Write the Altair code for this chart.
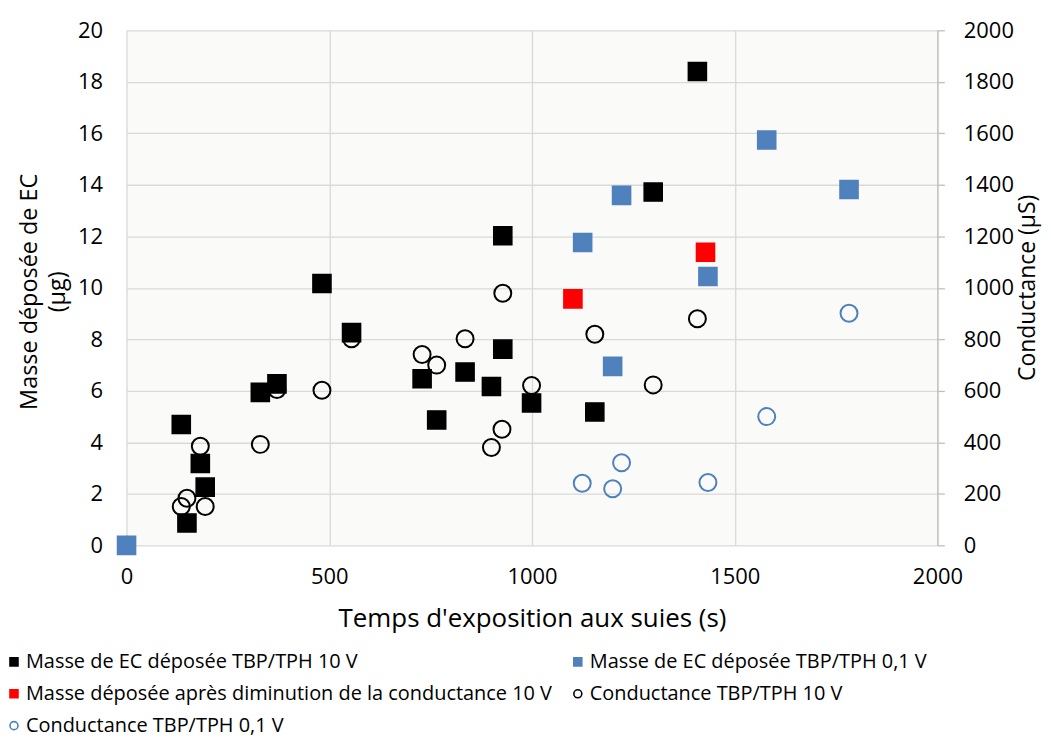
import altair as alt
import pandas as pd

series_names = [
    "Masse de EC déposée TBP/TPH 10 V",
    "Masse de EC déposée TBP/TPH 0,1 V",
    "Masse déposée après diminution de la conductance 10 V",
    "Conductance TBP/TPH 10 V",
    "Conductance TBP/TPH 0,1 V",
]

# Masse de EC déposée TBP/TPH 10 V (µg)
t_mass_10v = [135, 149, 182, 194, 330, 371, 482, 555, 729, 765, 835, 900, 928, 928, 999, 1155, 1299, 1408]
mass_10v = [4.69, 0.87, 3.18, 2.26, 5.94, 6.27, 10.17, 8.26, 6.47, 4.87, 6.73, 6.17, 7.62, 12.02, 5.53, 5.18, 13.72, 18.4]

# Masse de EC déposée TBP/TPH 0,1 V (µg)
t_mass_01v = [0, 1125, 1199, 1221, 1434, 1579, 1782]
mass_01v = [0, 11.76, 6.95, 13.59, 10.44, 15.74, 13.82]

# Masse déposée après diminution de la conductance 10 V (µg)
t_mass_red = [1101, 1428]
mass_red = [9.57, 11.38]

# Conductance TBP/TPH 10 V (µS)
t_cond_10v = [135, 149, 182, 194, 330, 371, 482, 555, 729, 765, 835, 900, 926, 928, 999, 1155, 1299, 1408]
cond_10v = [151, 183, 385, 151, 392, 605, 602, 802, 741, 700, 802, 380, 451, 979, 621, 820, 623, 880]

# Conductance TBP/TPH 0,1 V (µS)
t_cond_01v = [0, 1124, 1199, 1221, 1434, 1579, 1782]
cond_01v = [0, 241, 220, 321, 244, 500, 901]

x_ticks = [0, 500, 1000, 1500, 2000]
left_ticks = [0, 2, 4, 6, 8, 10, 12, 14, 16, 18, 20]
right_ticks = [0, 200, 400, 600, 800, 1000, 1200, 1400, 1600, 1800, 2000]

# legend order (the legend fills column by column: 3 items then 2)
legend_order = [series_names[0], series_names[2], series_names[4], series_names[1], series_names[3]]
stroke_range = ["#000000", "#FF0000", "#4F81BD", "#4F81BD", "#000000"]
fill_range = ["#000000", "#FF0000", "transparent", "#4F81BD", "transparent"]
shape_range = ["square", "square", "circle", "square", "circle"]


def frame(name, ts, vs):
    return pd.DataFrame({"series": [name] * len(ts), "t": ts, "v": vs})


df_mass = pd.concat([
    frame(series_names[0], t_mass_10v, mass_10v),
    frame(series_names[1], t_mass_01v, mass_01v),
    frame(series_names[2], t_mass_red, mass_red),
])
df_c10 = frame(series_names[3], t_cond_10v, cond_10v)
df_c01 = frame(series_names[4], t_cond_01v, cond_01v)

FONT = "Open Sans"

legend = alt.Legend(
    title=None, orient="none", legendX=-123, legendY=624, columns=2,
    labelFont=FONT, labelFontSize=20, labelColor="#000000", labelLimit=800,
    symbolSize=64, symbolStrokeWidth=1.6, rowPadding=12, columnPadding=15,
    labelOffset=2,
)

x_enc = alt.X(
    "t:Q",
    scale=alt.Scale(domain=[0, 2000], nice=False),
    axis=alt.Axis(
        values=x_ticks, format="d", title="Temps d'exposition aux suies (s)",
        grid=True, gridColor="#D9D9D9", gridWidth=1.3,
        domain=False, ticks=False, tickSize=0, labelPadding=21, labelFlush=False,
        labelFont=FONT, labelFontSize=22, labelColor="#000000",
        titleFont=FONT, titleFontSize=26, titleFontWeight="normal", titleColor="#000000",
        titleY=73, titleBaseline="middle",
    ),
)

stroke_enc = alt.Stroke("series:N", scale=alt.Scale(domain=legend_order, range=stroke_range), legend=legend)
fill_enc = alt.Fill("series:N", scale=alt.Scale(domain=legend_order, range=fill_range), legend=legend)
shape_enc = alt.Shape("series:N", scale=alt.Scale(domain=legend_order, range=shape_range), legend=legend)

right_axis = alt.Axis(
    values=right_ticks, format="d", orient="right", title="Conductance (µS)", grid=False,
    domain=True, domainColor="#BFBFBF", domainWidth=1.3,
    ticks=True, tickColor="#BFBFBF", tickSize=7, tickWidth=1.3, labelPadding=19,
    labelFont=FONT, labelFontSize=22, labelColor="#000000",
    titleFont=FONT, titleFontSize=23, titleFontWeight="normal", titleColor="#000000",
    titleAngle=270, titleX=90, titleY=258, titleAlign="center", titleBaseline="middle",
)

cond10 = alt.Chart(df_c10).mark_point(size=290, strokeWidth=2, opacity=1).encode(
    x=x_enc,
    y=alt.Y("v:Q", scale=alt.Scale(domain=[0, 2000], nice=False), axis=right_axis),
    stroke=stroke_enc, fill=fill_enc, shape=shape_enc,
)

mass = alt.Chart(df_mass).mark_point(size=330, strokeWidth=1.5, opacity=1).encode(
    x=x_enc,
    y=alt.Y(
        "v:Q", scale=alt.Scale(domain=[0, 20], nice=False),
        axis=alt.Axis(
            values=left_ticks, orient="left", title=["Masse déposée de EC", "(µg)"],
            grid=True, gridColor="#D9D9D9", gridWidth=1.3,
            domain=False, ticks=False, tickSize=0, labelPadding=24,
            labelFont=FONT, labelFontSize=22, labelColor="#000000",
            titleFont=FONT, titleFontSize=23.5, titleFontWeight="normal", titleColor="#000000",
            titleAngle=270, titleX=-97, titleY=262, titleAlign="center",
            titleBaseline="middle", titleLineHeight=28,
        ),
    ),
    stroke=stroke_enc, fill=fill_enc, shape=shape_enc,
)

cond01 = alt.Chart(df_c01).mark_point(size=290, strokeWidth=2, opacity=1).encode(
    x=x_enc,
    y=alt.Y("v:Q", scale=alt.Scale(domain=[0, 2000], nice=False), axis=None),
    stroke=stroke_enc, fill=fill_enc, shape=shape_enc,
)

chart = alt.layer(cond10, mass, cond01).resolve_scale(
    y="independent"
).properties(
    width=814, height=517,
    autosize=alt.AutoSizeParams(type="none"),
    padding={"left": 119, "top": 21, "right": 106, "bottom": 194},
    background="#FFFFFF",
).configure_view(
    fill="#FAFAF9", stroke=None,
)

chart.save("out.html", embed_options={"renderer": "svg", "actions": False})
